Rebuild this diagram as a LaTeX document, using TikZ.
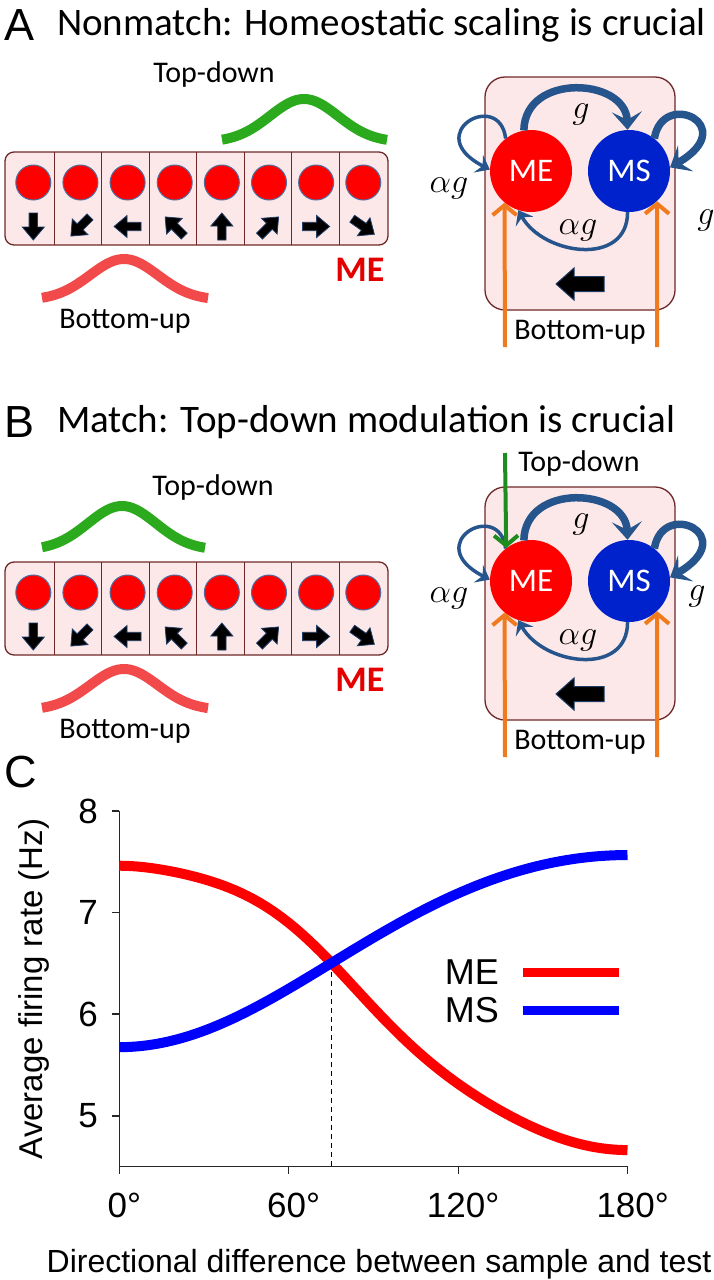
\RequirePackage{fix-cm}
\documentclass[tikz,border=0pt]{standalone}
\usepackage{fontspec}
\setmainfont{Carlito}
\newfontfamily\arialf{Liberation Sans}
\usetikzlibrary{arrows.meta}
\definecolor{boxfill}{RGB}{252,232,232}
\definecolor{boxedge}{RGB}{110,40,40}
\definecolor{cellrim}{RGB}{80,110,160}
\definecolor{arcblue}{RGB}{38,84,140}
\definecolor{orng}{RGB}{240,122,30}
\definecolor{grn}{RGB}{44,170,30}
\definecolor{dgrn}{RGB}{30,140,30}
\definecolor{rcurve}{RGB}{242,74,74}
\definecolor{msblue}{RGB}{0,34,204}
\definecolor{arrowedge}{RGB}{30,60,100}
\newcommand\fsz[1]{\fontsize{#1}{#1}\selectfont}
\tikzset{
  pics/blk/.style={code={\fill[black, draw=arrowedge, line width=0.8] (-13.5,-4.2) -- (0.5,-4.2) -- (0.5,-11) -- (13.5,0) -- (0.5,11) -- (0.5,4.2) -- (-13.5,4.2) -- cycle;}},
  pics/bigblk/.style={code={\fill[black, draw=arrowedge, line width=1] (24,-7.5) -- (-6,-7.5) -- (-6,-16) -- (-24,0) -- (-6,16) -- (-6,7.5) -- (24,7.5) -- cycle;}}
}
\begin{document}
\begin{tikzpicture}[x=1pt,y=-1pt,
  cellc/.style={circle, fill=red, draw=cellrim, line width=1, minimum size=35, inner sep=0},
  rowbox/.style={draw=boxedge, fill=boxfill, line width=1.3, rounded corners=9, minimum width=383, minimum height=93, inner sep=0},
  rbox/.style={draw=boxedge, fill=boxfill, line width=1.3, rounded corners=20, minimum width=190, minimum height=233, inner sep=0},
  neuron/.style={circle, minimum size=82, inner sep=0, text=white, font=\fsz{33}},
  lbl/.style={font=\fsz{30}, inner sep=0},
  ttl/.style={font=\fsz{39}, inner sep=0, anchor=base west},
  panel/.style={font=\arialf\fsz{45}, inner sep=0, anchor=base west},
  mlbl/.style={font=\fsz{34}, inner sep=0},
  thickarc/.style={arcblue, line width=7.5, -{Stealth[length=18pt,width=30pt,inset=8pt]}},
  thinarc/.style={arcblue, line width=3.5, -{Stealth[length=13pt,width=20pt,inset=5pt]}},
  oarr/.style={orng, line width=4, -{Straight Barb[length=10pt,width=24pt]}},
  garr/.style={dgrn, line width=4, -{Straight Barb[length=10pt,width=24pt]}},
  gcurve/.style={grn, line width=10, line join=round},
  rcurv/.style={rcurve, line width=10, line join=round},
  axis/.style={black!85, line width=1.2},
  tick/.style={font=\arialf\fsz{35}, inner sep=0},
]
\useasboundingbox (0,0) rectangle (714,1280);

% ---------- titles ----------
\node[panel] (pA) at (4,40) {A};
\node[ttl] (tA) at (57,35) {Nonmatch: Homeostatic scaling is crucial};
\node[panel] (pB) at (4,437) {B};
\node[ttl] (tB) at (57,432) {Match: Top-down modulation is crucial};
\node[panel] (pC) at (4,787) {C};

% ---------- left rows ----------
\foreach \p/\dy in {A/0,B/410}{
  \begin{scope}[yshift=-\dy]
    \node[rowbox] (row\p) at (196.5,198.5) {};
    \foreach \d in {54,101.5,149,196.5,244,291.5,339}
      \draw[boxedge, line width=1] (\d,152) -- (\d,245);
    \foreach \i/\ang in {0/-90,1/-135,2/180,3/135,4/90,5/45,6/0,7/-35}{
      \node[cellc] (c\p\i) at ({33.3+47.14*\i},182.5) {};
      \pic[rotate=\ang] at ({33.3+47.14*\i},226.5) {blk};
    }
    \node[font=\bfseries\fsz{36}, text=red!90!black, inner sep=0] (me\p) at (360,270) {ME};
  \end{scope}
}
% curves A
\node[lbl] (tdA) at (214,74) {Top-down};
\draw[gcurve] plot[domain=222:387,samples=80,smooth] (\x,{142-43*exp(-0.5*(((\x-304)/34)^2))});
\draw[rcurv] plot[domain=42:208,samples=80,smooth] (\x,{300-41*exp(-0.5*(((\x-124)/34)^2))});
\node[lbl] (buA) at (125,321) {Bottom-up};
% curves B
\node[lbl] (tdB) at (213,487) {Top-down};
\draw[gcurve] plot[domain=42:205,samples=80,smooth] (\x,{550-44*exp(-0.5*(((\x-122)/34)^2))});
\draw[rcurv] plot[domain=42:208,samples=80,smooth] (\x,{710-41*exp(-0.5*(((\x-124)/34)^2))});
\node[lbl] (buB) at (125,731) {Bottom-up};

% ---------- right diagrams ----------
\foreach \p/\dy/\gx/\gy in {A/0/706/220,B/410/697/186}{
  \begin{scope}[yshift=-\dy]
    \node[rbox] (box\p) at (580,193.5) {};
    \pic at (580,284) {bigblk};
    \node[lbl] (bu2\p) at (580,332) {Bottom-up};
    \node[neuron, fill=red] (ME\p) at (531,171) {ME};
    \node[neuron, fill=msblue] (MS\p) at (629,171) {MS};
    % g top arc
    \draw[thickarc] (ME\p.100) .. controls +(1,-58) and +(-2,-52) .. (MS\p.92);
    \node[mlbl] (g1\p) at (581,114) {$g$};
    % MS self loop
    \draw[thickarc] (MS\p.52) .. controls +(8,-50) and +(72,-42) .. (MS\p.5);
    \node[mlbl] (g2\p) at (\gx,\gy) {$g$};
    % ME self loop
    \draw[thinarc] (ME\p.128) .. controls +(-6,-50) and +(-70,-36) .. (ME\p.178);
    \node[mlbl] (ag1\p) at (449,188) {$\alpha g$};
    % bottom arc
    \draw[thinarc] (MS\p.268) .. controls +(0,55) and +(25,45) .. (ME\p.252);
    \node[mlbl] (ag2\p) at (578,230) {$\alpha g$};
    % orange inputs
    \coordinate (o1\p) at (505,347);
    \coordinate (o2\p) at (657,347);
    \draw[oarr] (o1\p) -- (ME\p.230);
    \draw[oarr] (o2\p) -- (MS\p.313);
  \end{scope}
}
\node[lbl] (td2B) at (579,463) {Top-down};
\coordinate (gsrc) at (505,453);
\draw[garr] (gsrc) -- (MEB.127);

% ---------- panel C ----------
\coordinate (org) at (119.3,1166.7);
\draw[axis] (119.3,811) -- (org) -- (627.7,1166.7);
\foreach \v/\yy in {8/811,7/912.7,6/1014,5/1116}{
  \draw[axis] (119.3,\yy) -- (112,\yy);
  \node[tick, anchor=east] (yt\v) at (98,\yy) {\v};
}
\foreach \a/\xx in {0/119.3,60/288.7,120/458.1,180/627.7}{
  \draw[axis] (\xx,1166.7) -- (\xx,1174);
  \node[tick] (xt\a) at (\xx+5,1205) {\a°};
}
\node[font=\arialf\fsz{32}, inner sep=0, anchor=base] (xl) at (379,1272) {Directional difference between sample and test};
\node[font=\arialf\fsz{33}, inner sep=0, rotate=90] (yl) at (34,989) {Average firing rate (Hz)};
\coordinate (cross) at (331.5,962.8);
\draw[black, line width=1, dash pattern=on 5pt off 4pt] (cross) -- (cross |- org);
\draw[red, line width=10] plot[domain=0:180, samples=120] ({119.3+2.8233*\x}, {912.7-101.7*(4.666+2.796*(1+cos(\x-12*sin(\x)*sin(\x)*cos(\x)*(1+cos(\x))))/2-7)});
\draw[blue, line width=10] plot[domain=0:180, samples=120] ({119.3+2.8233*\x}, {912.7-101.7*(5.678+1.889*(1-cos(\x+8*sin(\x)))/2-7)});
\node[font=\arialf\fsz{36}, inner sep=0, anchor=east] (lgME) at (499,972) {ME};
\node[font=\arialf\fsz{36}, inner sep=0, anchor=east] (lgMS) at (499,1010) {MS};
\coordinate (l1a) at (522.7,972.3); \coordinate (l1b) at (619.3,972.3);
\coordinate (l2a) at (522.7,1010); \coordinate (l2b) at (619.3,1010);
\draw[red, line width=9] (l1a) -- (l1b);
\draw[blue, line width=9] (l2a) -- (l2b);
\end{tikzpicture}
\end{document}
